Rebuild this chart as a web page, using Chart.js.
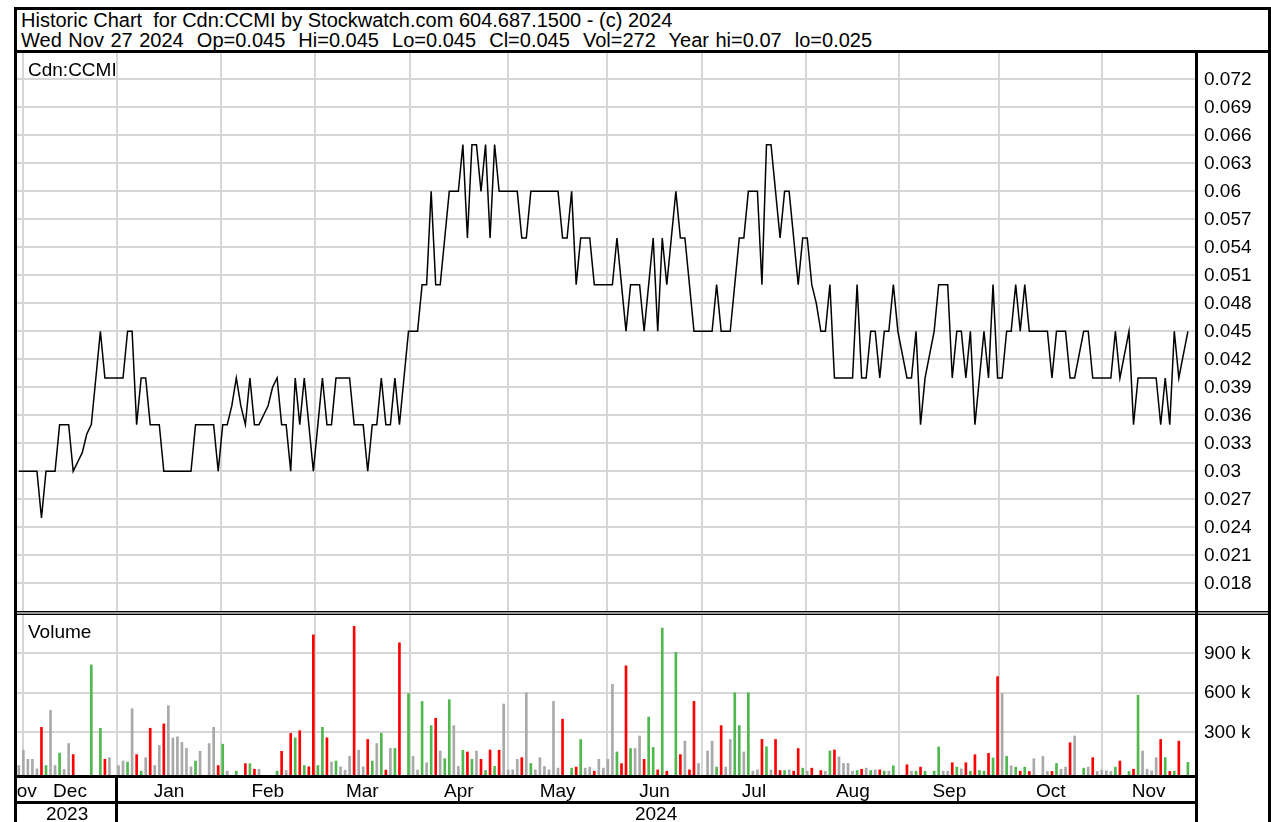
<!DOCTYPE html>
<html>
<head>
<meta charset="utf-8">
<script src="https://cdn.jsdelivr.net/npm/chart.js@4.4.1/dist/chart.umd.min.js"></script>
<style>
  html, body { margin: 0; padding: 0; background: #fff; }
  body { width: 1271px; height: 822px; position: relative; overflow: hidden;
         font-family: "Liberation Sans", Arial, sans-serif; color: #000; }
  .abs { position: absolute; }
  .frame { left: 14px; top: 7px; width: 1257px; height: 830px; border: 3px solid #000; box-sizing: border-box; }
  .hdr { left: 21px; font-size: 20px; line-height: 20px; white-space: pre; }
  .lbl { font-size: 19px; line-height: 19px; white-space: pre; }
  .blk { background: #000; }
</style>
</head>
<body>
<div class="abs frame"></div>
<div class="abs hdr" style="top:10px">Historic Chart  for Cdn:CCMI by Stockwatch.com 604.687.1500 - (c) 2024</div>
<div class="abs hdr" style="top:30px; word-spacing:1px">Wed Nov 27 2024  Op=0.045  Hi=0.045  Lo=0.045  Cl=0.045  Vol=272  Year hi=0.07  lo=0.025</div>
<div class="abs blk" style="left:17px; top:50px; width:1251px; height:3px"></div>

<canvas id="price" class="abs" style="left:17px; top:53px" width="1251" height="558"></canvas>
<canvas id="vol" class="abs" style="left:17px; top:615px" width="1251" height="207"></canvas>

<div class="abs lbl" style="left:28px; top:60px">Cdn:CCMI</div>
<div class="abs lbl" style="left:28px; top:622px">Volume</div>

<!-- panel separators -->
<div class="abs" style="left:17px; top:611px; width:1251px; height:2px; border-top:1px solid #000; border-bottom:1px solid #000; background:#999"></div>
<div class="abs blk" style="left:1195px; top:53px; width:3px; height:769px"></div>
<div class="abs blk" style="left:17px; top:775px; width:1180px; height:3px"></div>
<div class="abs blk" style="left:17px; top:801px; width:1180px; height:3px"></div>
<div class="abs blk" style="left:115px; top:775px; width:3px; height:47px"></div>

<script>
// one slot per trading day, Nov 30 2023 .. Nov 27 2024
const closes = [
  0.03, 0.03, 0.03, 0.03, 0.03, 0.025, 0.03, 0.03, 0.03, 0.035,
  0.035, 0.035, 0.03, 0.031, 0.032, 0.034, 0.035, 0.04, 0.045, 0.04,
  0.04, 0.04, 0.04, 0.04, 0.045, 0.045, 0.035, 0.04, 0.04, 0.035,
  0.035, 0.035, 0.03, 0.03, 0.03, 0.03, 0.03, 0.03, 0.03, 0.035,
  0.035, 0.035, 0.035, 0.035, 0.03, 0.035, 0.035, 0.037, 0.04, 0.037,
  0.035, 0.04, 0.035, 0.035, 0.036, 0.037, 0.039, 0.04, 0.035, 0.035,
  0.03, 0.04, 0.035, 0.04, 0.035, 0.03, 0.035, 0.04, 0.035, 0.035,
  0.04, 0.04, 0.04, 0.04, 0.035, 0.035, 0.035, 0.03, 0.035, 0.035,
  0.04, 0.035, 0.035, 0.04, 0.035, 0.04, 0.045, 0.045, 0.045, 0.05,
  0.05, 0.06, 0.05, 0.05, 0.055, 0.06, 0.06, 0.06, 0.065, 0.055,
  0.065, 0.065, 0.06, 0.065, 0.055, 0.065, 0.06, 0.06, 0.06, 0.06,
  0.06, 0.055, 0.055, 0.06, 0.06, 0.06, 0.06, 0.06, 0.06, 0.06,
  0.055, 0.055, 0.06, 0.05, 0.055, 0.055, 0.055, 0.05, 0.05, 0.05,
  0.05, 0.05, 0.055, 0.05, 0.045, 0.05, 0.05, 0.05, 0.045, 0.05,
  0.055, 0.045, 0.055, 0.05, 0.055, 0.06, 0.055, 0.055, 0.05, 0.045,
  0.045, 0.045, 0.045, 0.045, 0.05, 0.045, 0.045, 0.045, 0.05, 0.055,
  0.055, 0.06, 0.06, 0.06, 0.05, 0.065, 0.065, 0.06, 0.055, 0.06,
  0.06, 0.055, 0.05, 0.055, 0.055, 0.05, 0.048, 0.045, 0.045, 0.05,
  0.04, 0.04, 0.04, 0.04, 0.04, 0.05, 0.04, 0.04, 0.045, 0.045,
  0.04, 0.045, 0.045, 0.05, 0.045, 0.0425, 0.04, 0.04, 0.045, 0.035,
  0.04, 0.0425, 0.045, 0.05, 0.05, 0.05, 0.04, 0.045, 0.045, 0.04,
  0.045, 0.035, 0.04, 0.045, 0.04, 0.05, 0.04, 0.04, 0.045, 0.045,
  0.05, 0.045, 0.05, 0.045, 0.045, 0.045, 0.045, 0.045, 0.04, 0.045,
  0.045, 0.045, 0.04, 0.04, 0.0425, 0.045, 0.045, 0.04, 0.04, 0.04,
  0.04, 0.04, 0.045, 0.04, 0.0425, 0.045, 0.035, 0.04, 0.04, 0.04,
  0.04, 0.04, 0.035, 0.04, 0.035, 0.045, 0.04, 0.0425, 0.045
];

// daily volume, thousands of shares
const volumes = [
  48, 164, 95, 95, 23, 338, 48, 466, 48, 143,
  18, 215, 131, 0, 0, 0, 812, 0, 331, 95,
  108, 0, 48, 82, 74, 479, 131, 5, 108, 331,
  48, 200, 364, 502, 258, 266, 223, 178, 38, 82,
  156, 0, 215, 338, 48, 210, 5, 0, 5, 0,
  62, 62, 20, 20, 0, 0, 0, 5, 156, 10,
  292, 258, 312, 48, 38, 1040, 48, 338, 258, 74,
  82, 38, 13, 118, 1105, 164, 38, 246, 82, 215,
  292, 13, 178, 178, 980, 0, 594, 118, 13, 535,
  69, 351, 407, 158, 100, 548, 351, 41, 164, 151,
  95, 158, 95, 10, 166, 41, 164, 515, 15, 15,
  95, 108, 600, 64, 15, 108, 41, 15, 535, 28,
  400, 0, 28, 36, 246, 28, 36, 5, 95, 28,
  95, 664, 151, 62, 805, 177, 177, 272, 95, 416,
  185, 15, 1092, 5, 0, 907, 131, 233, 15, 535,
  64, 0, 158, 233, 36, 351, 36, 246, 600, 351,
  151, 600, 5, 15, 246, 190, 15, 246, 10, 10,
  15, 5, 177, 28, 5, 28, 0, 10, 5, 158,
  166, 113, 64, 64, 5, 10, 20, 28, 10, 15,
  15, 5, 5, 46, 0, 0, 54, 5, 5, 36,
  5, 0, 5, 189, 5, 5, 69, 36, 23, 69,
  5, 130, 10, 5, 141, 105, 723, 594, 118, 46,
  36, 5, 36, 3, 100, 0, 118, 3, 3, 64,
  20, 36, 221, 272, 0, 28, 36, 108, 3, 13,
  8, 3, 36, 82, 0, 3, 20, 582, 158, 20,
  8, 108, 246, 108, 3, 5, 233, 0, 72
];

// first slot of each month (Dec .. Nov) and the month names shown under them
const monthGrid = [0.9, 21.7, 44.6, 65.3, 86.3, 107.9, 129.9, 150.7, 173.8, 194.3, 216.4, 239.1];
const monthNames = ['Nov', 'Dec', 'Jan', 'Feb', 'Mar', 'Apr', 'May', 'Jun', 'Jul', 'Aug', 'Sep', 'Oct', 'Nov'];
const yearNames = ['2023', '2024'];
const yearStartMonth = 2;   // 'Jan' in monthNames; its gridline is monthGrid[1]

const priceTicks = [0.018, 0.021, 0.024, 0.027, 0.03, 0.033, 0.036, 0.039, 0.042, 0.045,
                    0.048, 0.051, 0.054, 0.057, 0.06, 0.063, 0.066, 0.069, 0.072];
const volTicks = [300, 600, 900];

const xMin = -0.4, xMax = 259.57;
const priceMin = 0.01503, priceMax = 0.07482;
const volMin = -24, volMax = 1191;

const font = { family: '"Liberation Sans", Arial, sans-serif', size: 19 };
const gridColor = '#d6d6d6';
Chart.defaults.color = '#000';

// label positions: middle of the visible part of each month / year
const bounds = [xMin, ...monthGrid, xMax];
const monthMid = monthNames.map((_, i) => (bounds[i] + bounds[i + 1]) / 2);
const yearBounds = [xMin, monthGrid[yearStartMonth - 1], xMax];
const yearMid = yearNames.map((_, i) => (yearBounds[i] + yearBounds[i + 1]) / 2);

const fixedTicks = (values) => (scale) => { scale.ticks = values.map(v => ({ value: v })); };
const fitTo = (w, h) => (scale) => {
    if (w != null) scale.width = w;
    if (h != null) scale.height = h;
    scale.paddingLeft = scale.paddingRight = scale.paddingTop = scale.paddingBottom = 0;
};

const baseOptions = {
    responsive: false,
    animation: false,
    events: [],
    layout: { padding: 0, autoPadding: false },
    plugins: { legend: { display: false }, tooltip: { enabled: false } }
};

// vertical gridlines at the month starts (bar charts offset the index grid by default, so turn that off)
const monthGridAxis = () => ({
    type: 'linear', min: xMin, max: xMax, offset: false, bounds: 'data',
    afterBuildTicks: fixedTicks(monthGrid), afterFit: fitTo(null, 0),
    grid: { color: gridColor, lineWidth: 2, drawTicks: false, offset: false },
    border: { display: false },
    ticks: { display: false }
});

new Chart(document.getElementById('price'), {
    type: 'line',
    data: {
        datasets: [{
            data: closes.map((c, i) => ({ x: i, y: c })),
            borderColor: '#000',
            borderWidth: 1.5,
            pointRadius: 0,
            tension: 0,
            fill: false
        }]
    },
    options: {
        ...baseOptions,
        scales: {
            x: monthGridAxis(),
            y: {
                position: 'right', min: priceMin, max: priceMax, bounds: 'data',
                afterBuildTicks: fixedTicks(priceTicks), afterFit: fitTo(73, null),
                grid: { color: gridColor, lineWidth: 2, drawTicks: false },
                border: { display: false },
                ticks: { padding: 9, font, callback: v => String(+v.toFixed(3)) }
            }
        }
    }
});

const upColor = '#4fb84f', downColor = '#ff0000', flatColor = '#a9a9a9';
const barColors = closes.map((c, i) =>
    i === 0 || c === closes[i - 1] ? flatColor : (c > closes[i - 1] ? upColor : downColor));

new Chart(document.getElementById('vol'), {
    type: 'bar',
    data: {
        datasets: [{
            data: volumes.map((v, i) => ({ x: i, y: v > 0 ? v : null })),
            backgroundColor: barColors,
            borderWidth: 0,
            barThickness: 2,
            base: volMin,
            xAxisID: 'x'
        }]
    },
    options: {
        ...baseOptions,
        scales: {
            x: monthGridAxis(),
            xm: {
                type: 'linear', position: 'bottom', weight: 1, min: xMin, max: xMax, offset: false, bounds: 'data',
                afterBuildTicks: fixedTicks(monthMid), afterFit: fitTo(null, 27),
                grid: { display: false, drawTicks: false, offset: false },
                border: { display: false },
                ticks: { padding: 5, font, autoSkip: false, maxRotation: 0, callback: (v, i) => monthNames[i] }
            },
            xy: {
                type: 'linear', position: 'bottom', weight: 2, min: xMin, max: xMax, offset: false, bounds: 'data',
                afterBuildTicks: fixedTicks(yearMid), afterFit: fitTo(null, 20),
                grid: { display: false, drawTicks: false, offset: false },
                border: { display: false },
                ticks: { padding: 1, font, autoSkip: false, maxRotation: 0, callback: (v, i) => yearNames[i] }
            },
            y: {
                position: 'right', min: volMin, max: volMax, bounds: 'data',
                afterBuildTicks: fixedTicks(volTicks), afterFit: fitTo(73, null),
                grid: { color: gridColor, lineWidth: 2, drawTicks: false },
                border: { display: false },
                ticks: { padding: 9, font, callback: v => v + ' k' }
            }
        }
    }
});
</script>
</body>
</html>
